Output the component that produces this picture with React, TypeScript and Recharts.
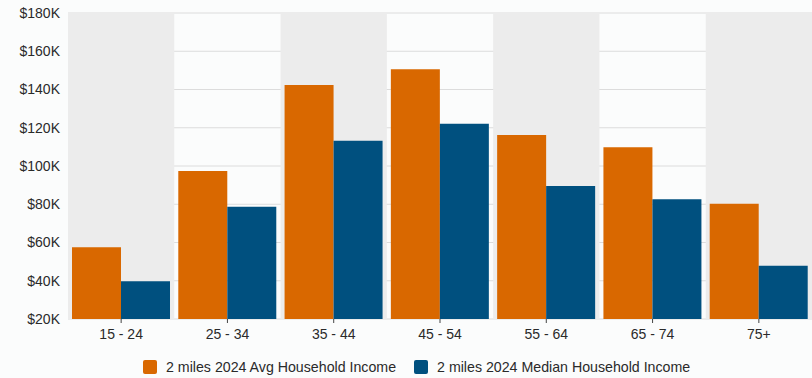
import { BarChart, Bar, XAxis, YAxis, CartesianGrid, ReferenceArea } from 'recharts';

const ageGroups = ['15 - 24', '25 - 34', '35 - 44', '45 - 54', '55 - 64', '65 - 74', '75+'];
const avgIncome = [57500, 97400, 142300, 150600, 116200, 109800, 80300];
const medianIncome = [39800, 78700, 113200, 122100, 89500, 82600, 47900];
const yTicks = [20000, 40000, 60000, 80000, 100000, 120000, 140000, 160000, 180000];
const shadedGroups = ['15 - 24', '35 - 44', '55 - 64', '75+'];

const seriesNames = ['2 miles 2024 Avg Household Income', '2 miles 2024 Median Household Income'];
const ORANGE = '#d96800';
const BLUE = '#00507f';

const data = ageGroups.map((age, i) => ({
  age,
  avg: avgIncome[i],
  median: medianIncome[i],
}));

const font = '"Liberation Sans", Arial, Helvetica, sans-serif';

export default function App() {
  return (
    <div
      style={{
        position: 'absolute',
        left: 0,
        top: 0,
        width: 812,
        height: 378,
        background: '#fbfcfc',
        fontFamily: font,
      }}
    >
      <BarChart
        width={812}
        height={378}
        data={data}
        margin={{ top: 13, right: 0, bottom: 29, left: 0 }}
        barCategoryGap={4}
        barGap={0}
      >
        {shadedGroups.map((g) => (
          <ReferenceArea key={g} x1={g} x2={g} fill="#ececec" fillOpacity={1} stroke="none" ifOverflow="visible" />
        ))}
        <CartesianGrid vertical={false} stroke="#dcdcdc" strokeWidth={1} />
        <XAxis
          dataKey="age"
          axisLine={false}
          tickSize={4}
          tickMargin={6}
          tickLine={{ stroke: '#444' }}
          height={30}
          interval={0}
          tick={{ fontSize: 14, fill: '#2a2a2a', fontFamily: font }}
        />
        <YAxis
          domain={[20000, 180000]}
          ticks={yTicks}
          width={68}
          axisLine={false}
          tickLine={false}
          allowDataOverflow
          tickFormatter={(v: number) => `$${v / 1000}K`}
          tick={{ fontSize: 14, fill: '#2a2a2a', fontFamily: font }}
        />
        <Bar dataKey="avg" name={seriesNames[0]} fill={ORANGE} isAnimationActive={false} />
        <Bar dataKey="median" name={seriesNames[1]} fill={BLUE} isAnimationActive={false} />
      </BarChart>
      <div
        style={{
          position: 'absolute',
          left: 143,
          top: 359,
          display: 'flex',
          alignItems: 'center',
          fontSize: 14.2,
          color: '#2a2a2a',
          whiteSpace: 'nowrap',
        }}
      >
        {seriesNames.map((name, i) => (
          <div key={name} style={{ display: 'flex', alignItems: 'center', marginRight: i === 0 ? 18 : 0 }}>
            <span
              style={{
                display: 'inline-block',
                width: 14,
                height: 14,
                borderRadius: 2,
                background: i === 0 ? ORANGE : BLUE,
                marginRight: 9,
              }}
            />
            <span>{name}</span>
          </div>
        ))}
      </div>
    </div>
  );
}
